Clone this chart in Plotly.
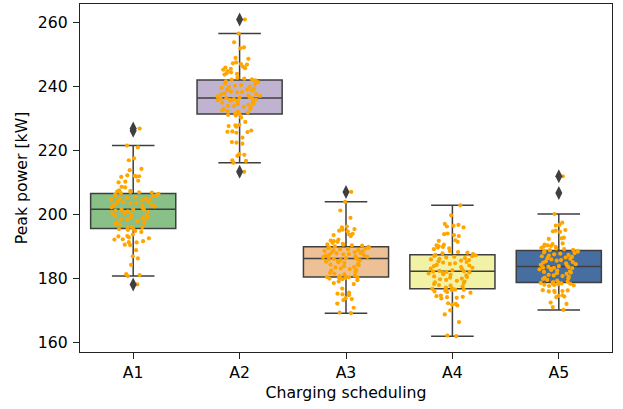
import plotly.graph_objects as go

categories = ["A1", "A2", "A3", "A4", "A5"]

a1_values = [178.2, 180.8, 181.1, 181.4, 184.3, 186.3, 187.0, 188.9, 190.5, 190.6, 191.3, 191.4, 191.7, 192.2, 192.3,
             192.6, 192.9, 193.2, 193.3, 193.8, 194.6, 194.9, 195.2, 195.5, 195.6,
             195.8, 196.1, 196.2, 196.9, 197.1, 197.4, 197.6, 197.9, 198.0, 198.4, 198.5, 198.9, 199.1, 199.2, 199.6,
             199.8, 200.0, 200.3, 200.5, 200.6, 200.9, 201.0, 201.3, 201.5, 201.6,
             201.8, 202.1, 202.3, 202.6, 202.8, 203.0, 203.1, 203.4, 203.5, 203.7, 203.9, 204.1, 204.2, 204.5, 204.6,
             204.8, 205.0, 205.1, 205.3, 205.6, 205.8, 205.9, 206.1, 206.3, 206.5,
             206.7, 206.9, 207.0, 207.1, 207.2, 207.4, 207.6, 208.5, 208.7, 210.1, 210.3, 210.6, 211.8, 211.9, 212.0,
             212.1, 212.3, 213.9, 214.3, 217.0, 217.6, 221.0, 221.6, 226.2, 226.9]
a2_values = [213.4, 216.2, 216.8, 217.0, 218.4, 218.7, 218.9, 222.2, 222.5, 222.7, 224.1, 225.6, 225.8, 225.9, 226.0,
             226.3, 227.5, 227.7, 227.9, 228.1, 229.0, 230.4, 231.0, 231.2, 231.4,
             231.6, 231.9, 232.2, 232.4, 232.6, 233.0, 233.1, 233.5, 233.7, 233.9, 234.0, 234.4, 234.6, 234.7, 235.0,
             235.2, 235.3, 235.6, 235.8, 235.9, 236.0, 236.1, 236.3, 236.4, 236.4,
             236.6, 236.8, 237.0, 237.1, 237.3, 237.6, 237.7, 237.9, 238.2, 238.3, 238.5, 238.8, 239.0, 239.1, 239.4,
             239.6, 239.9, 240.0, 240.3, 240.5, 240.8, 241.1, 241.4, 241.7, 242.0,
             242.2, 242.3, 242.5, 242.8, 243.8, 244.0, 244.2, 244.5, 244.9, 245.3, 245.6, 245.8, 246.0, 246.3, 246.9,
             247.1, 247.3, 247.6, 248.7, 249.0, 252.0, 252.3, 253.9, 256.6, 261.0]
a3_values = [169.2, 169.4, 170.9, 172.2, 173.3, 173.6, 173.9, 174.8, 175.1, 175.3, 175.6, 176.9, 178.3, 178.6, 179.1,
             179.5, 179.8, 180.0, 180.1, 180.2, 180.3, 180.4, 180.4, 180.5, 180.5,
             180.7, 181.0, 181.3, 181.6, 181.8, 182.1, 182.5, 182.7, 183.0, 183.2, 183.5, 183.6, 183.9, 184.2, 184.4,
             184.6, 184.9, 185.1, 185.3, 185.5, 185.7, 185.8, 186.0, 186.1, 186.2,
             186.4, 186.5, 186.7, 186.8, 187.0, 187.1, 187.3, 187.4, 187.6, 187.7, 187.9, 188.0, 188.2, 188.3, 188.5,
             188.6, 188.8, 188.9, 189.1, 189.2, 189.4, 189.5, 189.7, 189.8, 189.9,
             190.1, 190.3, 190.4, 190.6, 190.7, 190.9, 191.2, 191.5, 191.7, 191.9, 192.2, 193.3, 193.6, 193.8, 194.0,
             194.8, 195.0, 195.3, 195.5, 196.0, 196.3, 199.0, 201.3, 204.0, 207.1]
a4_values = [162.0, 162.2, 166.4, 168.8, 170.1, 171.6, 171.9, 172.1, 172.3, 173.8, 174.0, 174.2, 174.3, 174.5, 174.7,
             175.6, 175.8, 176.0, 176.2, 176.4, 176.5, 176.6, 176.7, 176.8,
             176.9, 177.2, 177.5, 177.8, 178.0, 178.3, 178.6, 178.8, 179.1, 179.3, 179.6, 179.8, 180.0, 180.3, 180.5,
             180.7, 181.0, 181.2, 181.4, 181.6, 181.8, 182.0, 182.1, 182.2, 182.3,
             182.4, 182.6, 182.9, 183.1, 183.4, 183.6, 183.9, 184.1, 184.3, 184.6, 184.8, 185.0, 185.2, 185.4, 185.6,
             185.8, 186.0, 186.2, 186.4, 186.6, 186.8, 187.0, 187.1, 187.3, 187.4,
             187.7, 187.9, 188.1, 188.3, 188.6, 189.2, 189.5, 189.7, 189.9, 190.1, 190.4, 190.6, 191.5, 191.8, 192.0,
             193.3, 193.6, 193.9, 194.1, 196.0, 196.3, 196.5, 196.8, 197.1, 199.8, 202.9]
a5_values = [170.2, 171.1, 172.1, 172.5, 174.2, 174.4, 174.6, 174.8, 175.8, 176.0, 176.1, 176.2, 176.3, 176.4, 177.7,
             177.9, 178.0, 178.1, 178.2, 178.3, 178.4, 178.5, 178.6, 178.7, 178.7,
             178.9, 179.1, 179.4, 179.6, 179.9, 180.1, 180.3, 180.6, 180.8, 181.0, 181.2, 181.5, 181.7, 181.9, 182.1,
             182.3, 182.5, 182.7, 182.9, 183.1, 183.3, 183.4, 183.5, 183.6, 183.7,
             183.9, 184.1, 184.3, 184.5, 184.8, 185.0, 185.2, 185.4, 185.6, 185.8, 186.0, 186.2, 186.4, 186.6, 186.8,
             187.0, 187.2, 187.4, 187.6, 187.8, 188.0, 188.2, 188.4, 188.6, 188.7,
             188.9, 189.0, 189.2, 189.4, 189.6, 189.9, 190.0, 190.2, 190.4, 190.6, 190.8, 191.0, 192.4, 192.6, 192.8,
             194.6, 194.8, 195.0, 195.2, 196.6, 196.8, 197.5, 200.2, 206.8, 212.0]

# box statistics
q1_values = [195.7, 231.5, 180.5, 176.8, 178.8]
median_values = [201.7, 236.5, 186.3, 182.3, 183.8]
q3_values = [206.6, 242.1, 190.0, 187.5, 188.8]
lower_whisker = [180.8, 216.2, 169.2, 162.0, 170.2]
upper_whisker = [221.6, 256.6, 204.0, 202.9, 200.2]
outliers = {
    "A1": [178.2, 226.2, 226.9],
    "A2": [213.4, 261.0],
    "A3": [207.1],
    "A4": [],
    "A5": [206.8, 212.0],
}

series = [a1_values, a2_values, a3_values, a4_values, a5_values]
box_colors = ["#88c088", "#bfb3cf", "#eec095", "#f2f2a6", "#476ea1"]
line_gray = "#3f3f3f"
font_family = "DejaVu Sans"
font_size = 15.7

fig = go.Figure()

for i, cat in enumerate(categories):
    fig.add_trace(go.Box(
        x=[cat], q1=[q1_values[i]], median=[median_values[i]], q3=[q3_values[i]],
        lowerfence=[lower_whisker[i]], upperfence=[upper_whisker[i]],
        fillcolor=box_colors[i], line=dict(color=line_gray, width=1.5),
        width=0.8, whiskerwidth=0.5, boxpoints=False, showlegend=False,
    ))

for cat in categories:
    if outliers[cat]:
        fig.add_trace(go.Scatter(
            x=[cat] * len(outliers[cat]), y=outliers[cat], mode="markers",
            marker=dict(symbol="diamond-tall", size=10, color=line_gray, line=dict(width=0)),
            showlegend=False,
        ))

for i, cat in enumerate(categories):
    fig.add_trace(go.Box(
        x=[cat] * len(series[i]), y=series[i], boxpoints="all", jitter=0.6, pointpos=0,
        fillcolor="rgba(0,0,0,0)", line=dict(width=0, color="rgba(0,0,0,0)"),
        marker=dict(color="orange", size=4.2, line=dict(width=0)),
        width=0.8, showlegend=False,
    ))

fig.update_layout(
    width=623, height=409,
    margin=dict(l=80, r=11, t=4, b=57, autoexpand=False),
    paper_bgcolor="white", plot_bgcolor="white",
    boxmode="overlay",
    font=dict(family=font_family, size=font_size, color="black"),
    showlegend=False,
)
fig.update_xaxes(
    type="category", categoryorder="array", categoryarray=categories,
    range=[-0.5, 4.5], showgrid=False, zeroline=False, automargin=False,
    showline=True, linecolor="#222", linewidth=1.2, mirror=True,
    ticks="outside", ticklen=6, tickwidth=1.2, tickcolor="#222",
    tickfont=dict(family=font_family, size=font_size, color="black"),
    title=dict(text="Charging scheduling", standoff=6,
               font=dict(family=font_family, size=font_size, color="black")),
)
fig.update_yaxes(
    range=[157.06, 265.85], tickvals=[160, 180, 200, 220, 240, 260],
    showgrid=False, zeroline=False, automargin=False,
    showline=True, linecolor="#222", linewidth=1.2, mirror=True,
    ticks="outside", ticklen=6, tickwidth=1.2, tickcolor="#222",
    ticklabelstandoff=2,
    tickfont=dict(family=font_family, size=font_size, color="black"),
    title=dict(text="Peak power [kW]", standoff=6,
               font=dict(family=font_family, size=font_size, color="black")),
)

fig.write_html("out.html", config={"displayModeBar": False},
               post_script="document.body.style.margin='0';")
